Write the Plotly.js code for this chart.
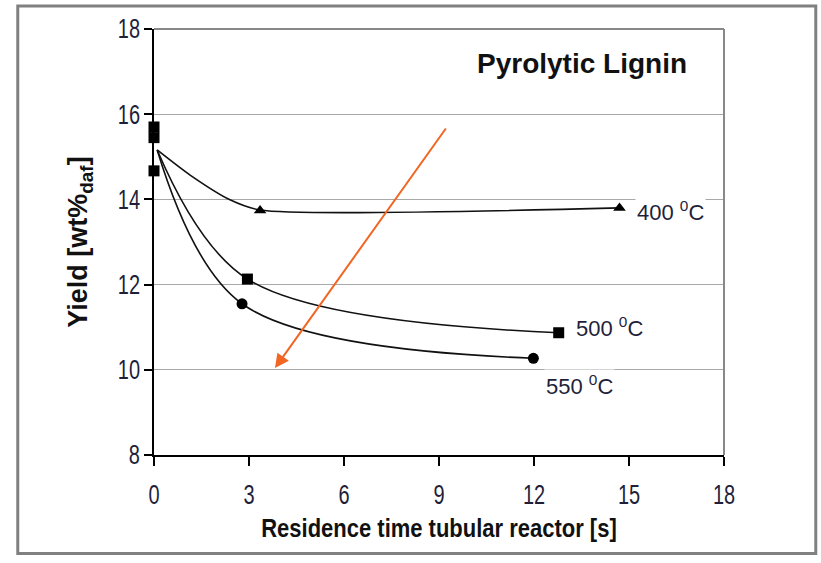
<!DOCTYPE html>
<html>
<head>
<meta charset="utf-8">
<script src="https://cdn.plot.ly/plotly-3.0.1.min.js"></script>
<style>html,body{margin:0;padding:0;background:#fff;}#chart{width:821px;height:563px;}</style>
</head>
<body>
<div id="chart"></div>
<script>
// Data
// markers at t = 0
const startX = [0, 0, 0];
const startY = [15.7, 15.45, 14.67];

// measured points (markers)
const t400 = [3.35, 14.7];
const y400 = [13.74, 13.8];
const t500 = [2.95, 12.78];
const y500 = [12.13, 10.87];
const t550 = [2.78, 11.98];
const y550 = [11.55, 10.27];

// smoothed curves (common origin)
const c400x = [0.1, 1.14, 2.4, 3.35, 14.7];
const c400y = [15.16, 14.57, 13.99, 13.75, 13.8];
const c500x = [0.1, 2.95, 12.78];
const c500y = [15.16, 12.13, 10.87];
const c550x = [0.1, 2.78, 11.98];
const c550y = [15.16, 11.55, 10.27];

const xTicks = [0, 3, 6, 9, 12, 15, 18];
const yTicks = [8, 10, 12, 14, 16, 18];

const seriesLabels = ['400 <sup>0</sup>C', '500 <sup>0</sup>C', '550 <sup>0</sup>C'];
const chartTitle = 'Pyrolytic Lignin';

const FONT = 'Liberation Sans, Arial, sans-serif';
const tickFont = {family: FONT, size: 20, color: '#1f1f3a'};
const labelFont = {family: FONT, size: 22, color: '#1f1f3a'};

function curve(xs, ys, sm) {
  return {x: xs, y: ys, mode: 'lines', line: {color: '#111', width: 1.6, shape: 'spline', smoothing: sm},
    showlegend: false, hoverinfo: 'skip'};
}
function marks(xs, ys, symbol, size) {
  return {x: xs, y: ys, mode: 'markers', marker: {symbol: symbol, color: '#000', size: size},
    cliponaxis: false, showlegend: false, hoverinfo: 'skip'};
}

const traces = [
  curve(c400x, c400y, 0.7), curve(c500x, c500y, 1), curve(c550x, c550y, 1),
  marks(t400, y400, 'triangle-up', 11),
  marks(t500, y500, 'square', 11),
  marks(t550, y550, 'circle', 11),
  marks(startX, startY, 'square', 11)
];

const layout = {
  width: 821, height: 563,
  margin: {l: 154, r: 97, t: 29, b: 108},
  paper_bgcolor: '#fff', plot_bgcolor: '#fff',
  xaxis: {
    range: [0, 18], tickvals: xTicks, ticktext: xTicks.map(String),
    showgrid: false, zeroline: false,
    showline: true, linecolor: '#000', linewidth: 2,
    ticks: 'outside', ticklen: 9, tickwidth: 2, tickcolor: '#000',
    ticklabelstandoff: 12,
    tickfont: tickFont,
    title: {text: '<b>Residence time tubular reactor [s]</b>', standoff: 15,
      font: {family: FONT, size: 22, color: '#111'}}
  },
  yaxis: {
    range: [8, 18], tickvals: yTicks, ticktext: yTicks.map(String),
    showgrid: true, gridcolor: '#a8a8a8', gridwidth: 1.2, zeroline: false,
    showline: true, linecolor: '#000', linewidth: 2,
    ticks: 'outside', ticklen: 8, tickwidth: 2, tickcolor: '#000',
    tickfont: tickFont,
    title: {text: '<b>Yield [wt%<sub>daf</sub>]</b>', standoff: 22,
      font: {family: FONT, size: 27, color: '#111'}}
  },
  shapes: [
    {type: 'line', xref: 'paper', yref: 'paper', x0: 0, x1: 1, y0: 1, y1: 1, line: {color: '#888', width: 2}},
    {type: 'line', xref: 'paper', yref: 'paper', x0: 1, x1: 1, y0: 0, y1: 1, line: {color: '#888', width: 2}},
    {type: 'rect', xref: 'paper', yref: 'paper', x0: -0.239, x1: 1.161, y0: -0.231, y1: 1.054, line: {color: '#808080', width: 3}}
  ],
  annotations: [
    {x: 10.15, y: 17.2, xref: 'x', yref: 'y', text: '<b>' + chartTitle + '</b>', showarrow: false, xanchor: 'left', yanchor: 'middle',
      font: {family: FONT, size: 28, color: '#111'}},
    {x: 15.2, y: 13.72, text: seriesLabels[0], showarrow: false, xanchor: 'left', yanchor: 'middle', bgcolor: '#fff', font: labelFont},
    {x: 13.25, y: 11.0, text: seriesLabels[1], showarrow: false, xanchor: 'left', yanchor: 'middle', bgcolor: '#fff', font: labelFont},
    {x: 12.3, y: 9.64, text: seriesLabels[2], showarrow: false, xanchor: 'left', yanchor: 'middle', bgcolor: '#fff', font: labelFont},
    {x: 3.82, y: 10.04, ax: 9.25, ay: 15.7, xref: 'x', yref: 'y', axref: 'x', ayref: 'y', text: '', showarrow: true,
      arrowhead: 2, arrowsize: 1.4, arrowwidth: 2, arrowcolor: '#f26522'}
  ]
};

// the reference uses tall, condensed lettering: stretch text vertically about its own centre
function stretch(selector, s) {
  document.querySelectorAll(selector).forEach(function (el) {
    try {
      const b = el.getBBox();
      const cx = b.x + b.width / 2, cy = b.y + b.height / 2;
      const t = el.getAttribute('transform') || '';
      el.setAttribute('transform', t + ' translate(' + cx + ',' + cy + ') scale(1,' + s + ') translate(' + (-cx) + ',' + (-cy) + ')');
    } catch (e) {}
  });
}

Plotly.newPlot('chart', traces, layout, {staticPlot: true, displayModeBar: false}).then(function () {
  stretch('.xtick text', 1.35);
  stretch('.ytick text', 1.35);
  stretch('.xtitle', 1.2);
});
</script>
</body>
</html>
